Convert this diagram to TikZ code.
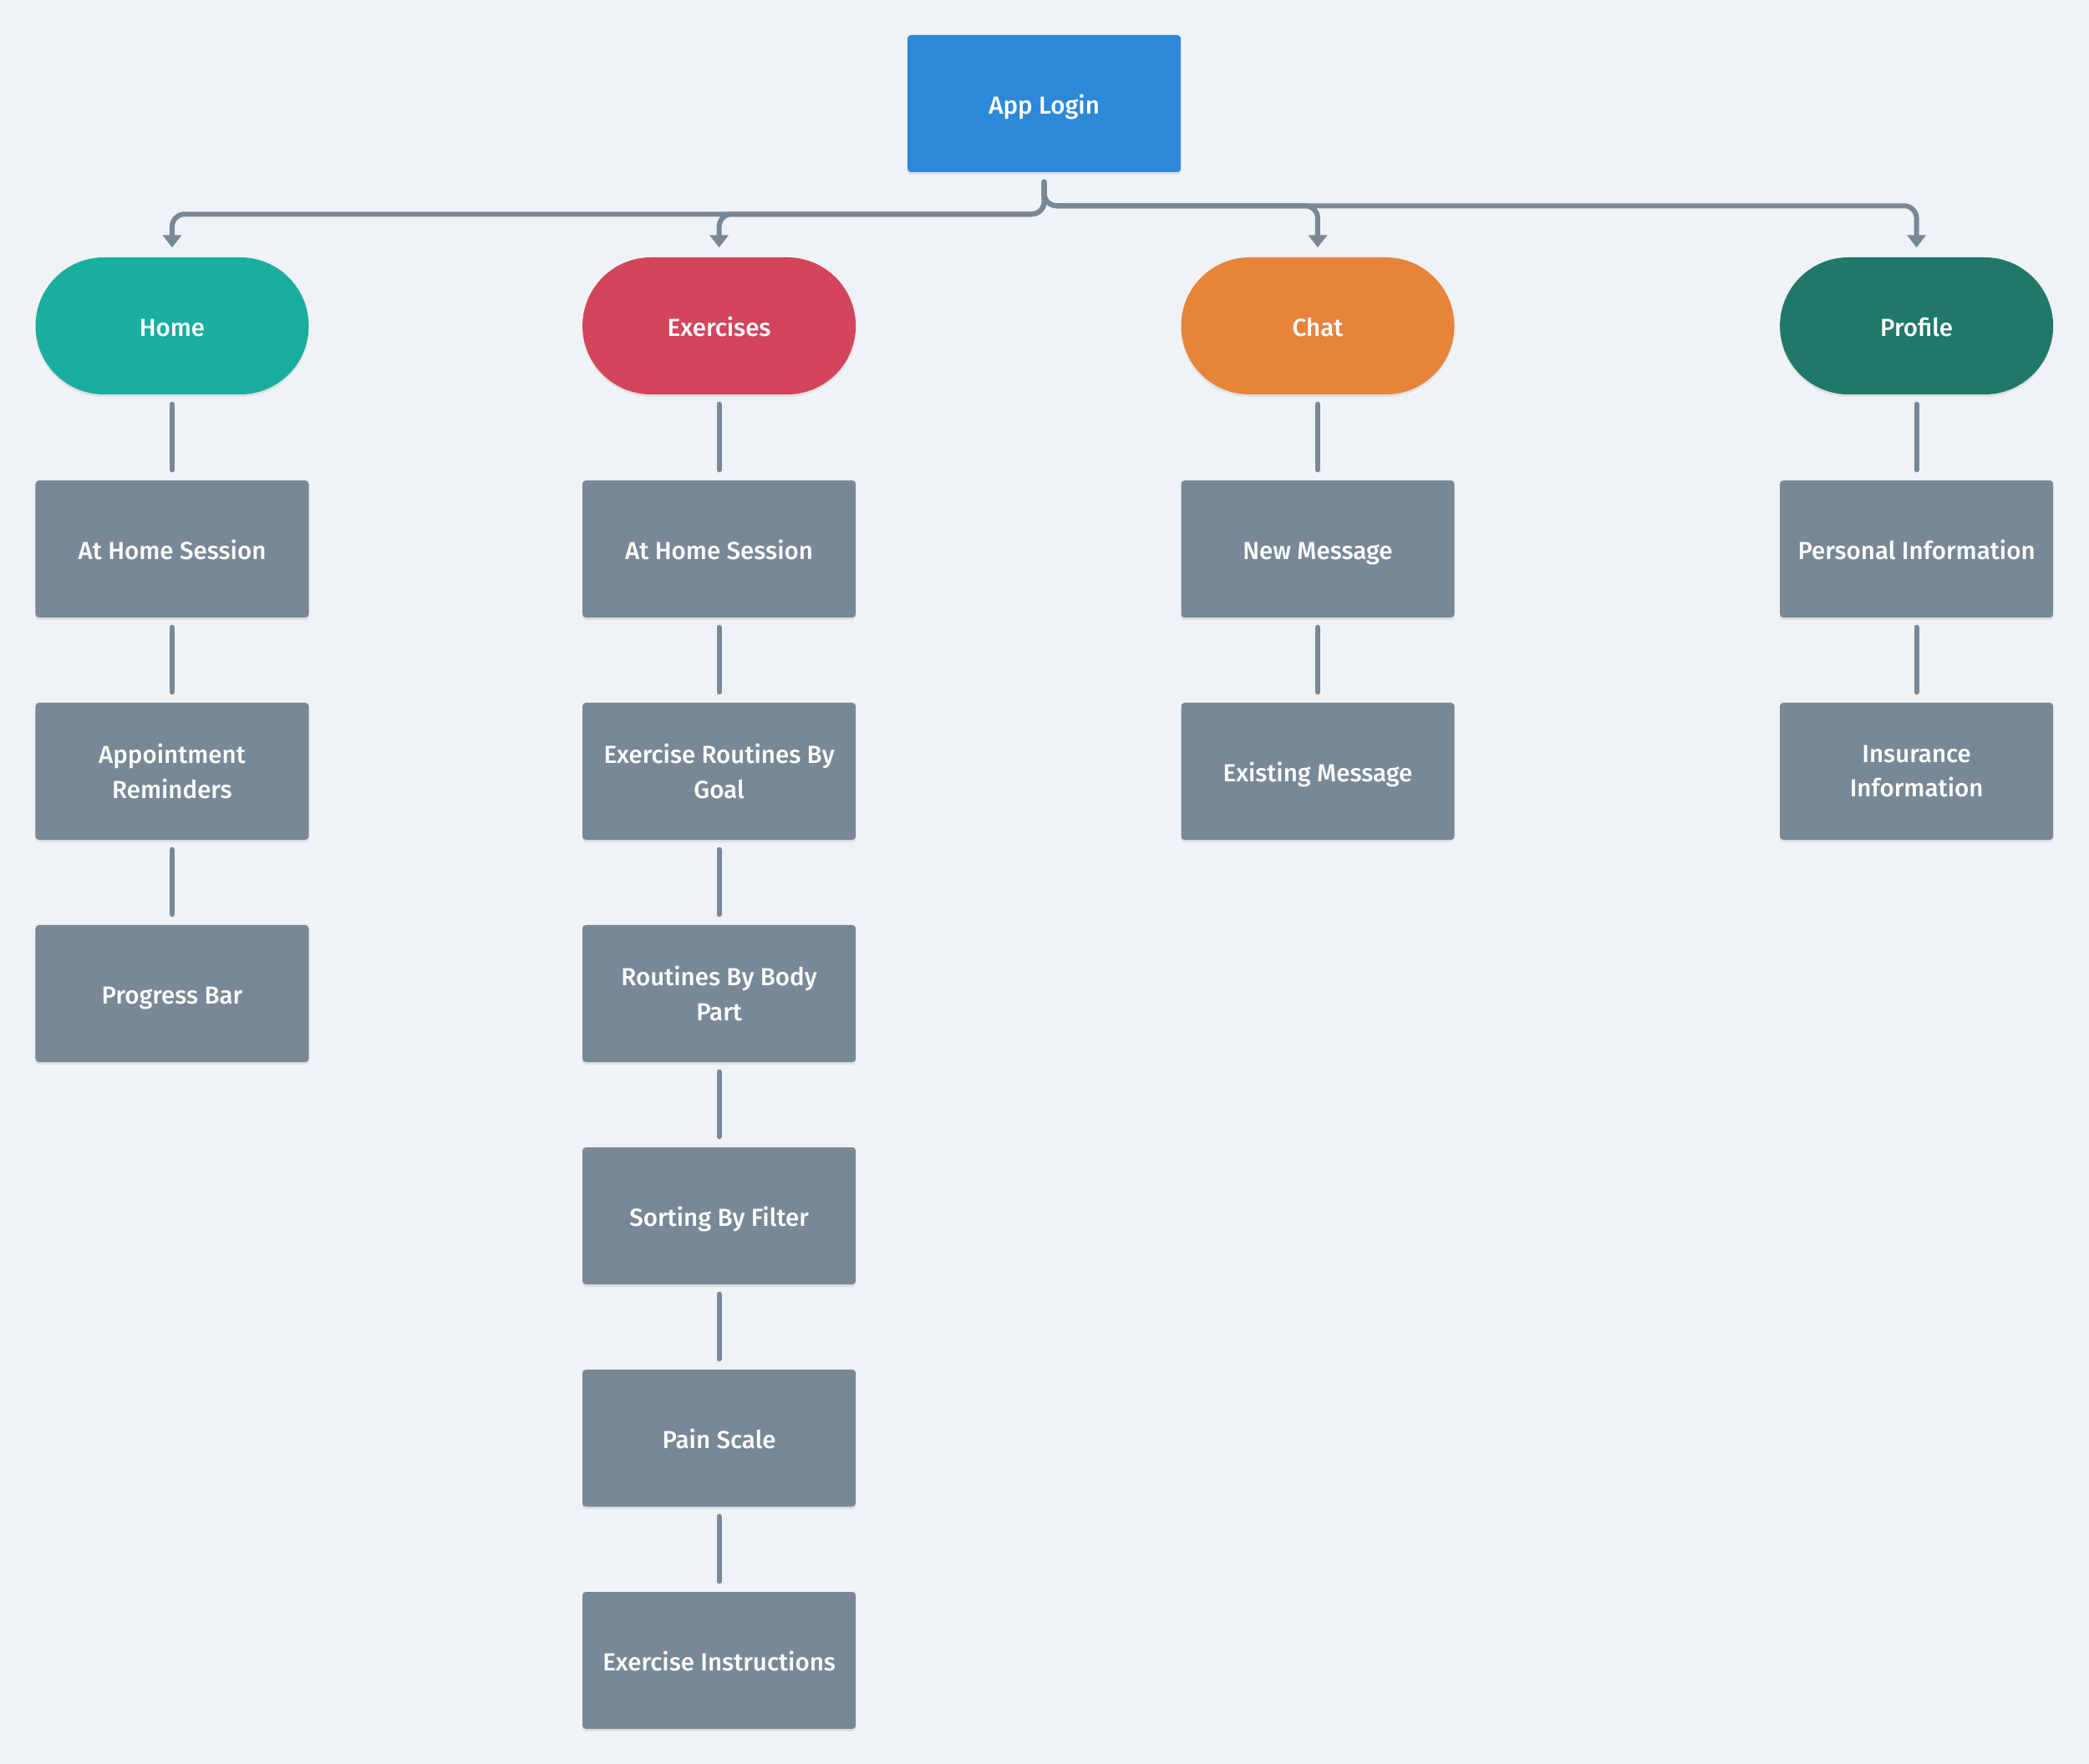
\documentclass[tikz,border=0pt]{standalone}
\usepackage{fontspec}
\setmainfont{Fira Sans}[UprightFont={* Medium}]
\usetikzlibrary{arrows.meta,shadows}
\definecolor{bgcol}{HTML}{F0F3F6}
\definecolor{boxgray}{HTML}{788896}
\definecolor{linegray}{HTML}{788896}
\definecolor{loginblue}{HTML}{2C88D9}
\definecolor{hometeal}{HTML}{1AAE9F}
\definecolor{exred}{HTML}{D3455B}
\definecolor{chatorange}{HTML}{E8833A}
\definecolor{profgreen}{HTML}{207868}

\begin{document}
\begin{tikzpicture}[scale=0.2]
\tikzstyle{every node}+=[inner sep=0pt, text=white, align=center, font=\fontsize{8.4}{11.9}\selectfont]
\tikzstyle{box}=[rectangle, rounded corners=0.04cm, minimum width=3.27cm, minimum height=1.64cm, fill=boxgray, drop shadow={shadow xshift=0cm, shadow yshift=-0.03cm, opacity=0.07, fill=black}]
\tikzstyle{pill}=[box, rounded corners=0.82cm]
\tikzstyle{oneline}=[text height=0.69em, text depth=0pt]
\tikzstyle{link}=[line width=0.06cm, draw=linegray, line cap=round]
\tikzstyle{flow}=[link, rounded corners=0.15cm, -{Triangle[width=0.22cm,length=0.15cm]}]
\fill [bgcol] (0,0) rectangle (125,-105.55);
\node [box, oneline, fill=loginblue] (login) at (62.48,-6.2) {App Login};
\node [pill, oneline, fill=hometeal] (home) at (10.3,-19.5) {Home};
\node [pill, oneline, fill=exred] (exercises) at (43.03,-19.5) {Exercises};
\node [pill, oneline, fill=chatorange] (chat) at (78.85,-19.5) {Chat};
\node [pill, oneline, fill=profgreen] (profile) at (114.68,-19.5) {Profile};
\node [box, oneline] (homesession) at (10.3,-32.85) {At Home Session};
\node [box] (reminders) at (10.3,-46.15) {Appointment\\Reminders};
\node [box, oneline] (progress) at (10.3,-59.45) {Progress Bar};
\node [box, oneline] (exsession) at (43.03,-32.85) {At Home Session};
\node [box] (bygoal) at (43.03,-46.15) {Exercise Routines By\\Goal};
\node [box] (bybody) at (43.03,-59.45) {Routines By Body\\Part};
\node [box, oneline] (filter) at (43.03,-72.75) {Sorting By Filter};
\node [box, oneline] (pain) at (43.03,-86.05) {Pain Scale};
\node [box, oneline] (instructions) at (43.03,-99.35) {Exercise Instructions};
\node [box, oneline] (newmsg) at (78.85,-32.85) {New Message};
\node [box, oneline] (oldmsg) at (78.85,-46.15) {Existing Message};
\node [box, oneline] (personal) at (114.68,-32.85) {Personal Information};
\node [box] (insurance) at (114.68,-46.15) {Insurance\\Information};
% shifts are scaled by 0.2 too
\draw [flow] ([yshift=-0.55cm]login.south) |- ([yshift=2.55cm]home.north) -- ([yshift=0.55cm]home.north);
\draw [flow] ([yshift=-0.55cm]login.south) |- ([yshift=2.55cm]exercises.north) -- ([yshift=0.55cm]exercises.north);
\draw [flow] ([yshift=-0.55cm]login.south) |- ([yshift=3.05cm]chat.north) -- ([yshift=0.55cm]chat.north);
\draw [flow] ([yshift=-0.55cm]login.south) |- ([yshift=3.05cm]profile.north) -- ([yshift=0.55cm]profile.north);
\draw [link] ([yshift=-0.55cm]home.south) -- ([yshift=0.6cm]homesession.north);
\draw [link] ([yshift=-0.55cm]homesession.south) -- ([yshift=0.6cm]reminders.north);
\draw [link] ([yshift=-0.55cm]reminders.south) -- ([yshift=0.6cm]progress.north);
\draw [link] ([yshift=-0.55cm]exercises.south) -- ([yshift=0.6cm]exsession.north);
\draw [link] ([yshift=-0.55cm]exsession.south) -- ([yshift=0.6cm]bygoal.north);
\draw [link] ([yshift=-0.55cm]bygoal.south) -- ([yshift=0.6cm]bybody.north);
\draw [link] ([yshift=-0.55cm]bybody.south) -- ([yshift=0.6cm]filter.north);
\draw [link] ([yshift=-0.55cm]filter.south) -- ([yshift=0.6cm]pain.north);
\draw [link] ([yshift=-0.55cm]pain.south) -- ([yshift=0.6cm]instructions.north);
\draw [link] ([yshift=-0.55cm]chat.south) -- ([yshift=0.6cm]newmsg.north);
\draw [link] ([yshift=-0.55cm]newmsg.south) -- ([yshift=0.6cm]oldmsg.north);
\draw [link] ([yshift=-0.55cm]profile.south) -- ([yshift=0.6cm]personal.north);
\draw [link] ([yshift=-0.55cm]personal.south) -- ([yshift=0.6cm]insurance.north);
\end{tikzpicture}
\end{document}
